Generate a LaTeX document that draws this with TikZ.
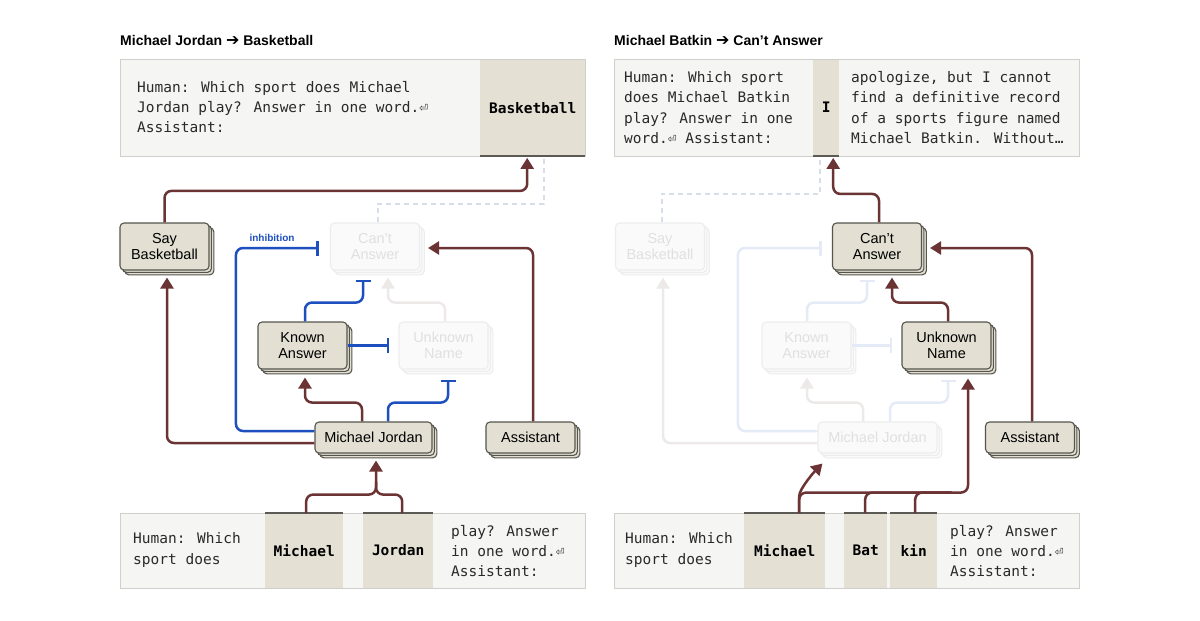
\documentclass[tikz,border=0pt]{standalone}
\usepackage{fontspec}
\setmainfont{Liberation Sans}
\newfontfamily\monof{DejaVu Sans Mono}
\newfontfamily\symf{DejaVu Sans}
\usetikzlibrary{arrows.meta,shadows,calc}
\definecolor{brownc}{HTML}{6B3333}
\definecolor{bluec}{HTML}{1D4FBF}
\definecolor{nodefill}{HTML}{E3DFD3}
\definecolor{nodeborder}{HTML}{55554D}
\definecolor{boxfill}{HTML}{F5F5F3}
\definecolor{boxborder}{HTML}{CFCFCB}
\definecolor{hlfill}{HTML}{E4E0D4}
\definecolor{hlline}{HTML}{5C5A55}
\definecolor{fadefill}{HTML}{FAFAFA}
\definecolor{fadeborder}{HTML}{EDEDED}
\definecolor{fadetext}{HTML}{E0E0E0}
\definecolor{fadebrown}{HTML}{EEE9E9}
\definecolor{fadeblue}{HTML}{E4EBF7}
\definecolor{dashc}{HTML}{D6DEEB}
\definecolor{txt}{HTML}{2A2A2A}
\begin{document}
\begin{tikzpicture}[x=1pt,y=-1pt,
  nd/.style={draw=nodeborder, fill=nodefill, rounded corners=4pt, line width=1.1pt,
    minimum width=89pt, minimum height=47pt, align=center, inner sep=0pt,
    font=\fontsize{14.5}{16}\selectfont, text=black,
    copy shadow={shadow xshift=4.8pt, shadow yshift=-4.8pt, fill=nodefill, draw=nodeborder},
    copy shadow={shadow xshift=2.4pt, shadow yshift=-2.4pt, fill=nodefill, draw=nodeborder}},
  fnd/.style={draw=fadeborder, fill=fadefill, rounded corners=4pt, line width=1.1pt,
    minimum width=89pt, minimum height=47pt, align=center, inner sep=0pt,
    font=\fontsize{14.5}{16}\selectfont, text=fadetext,
    copy shadow={shadow xshift=4.8pt, shadow yshift=-4.8pt, fill=fadefill, draw=fadeborder},
    copy shadow={shadow xshift=2.4pt, shadow yshift=-2.4pt, fill=fadefill, draw=fadeborder}},
  qbox/.style={draw=boxborder, fill=boxfill, line width=1pt, inner sep=0pt, anchor=north west},
  hl/.style={fill=hlfill, inner sep=0pt, anchor=north west},
  hlbar/.style={draw=hlline, line width=1.6pt},
  mtext/.style={anchor=west, align=left, inner sep=0pt, text=txt,
    font=\monof\fontsize{14.5}{20.3}\selectfont},
  mbold/.style={inner sep=0pt, text=black, font=\monof\bfseries\fontsize{14.5}{20}\selectfont},
  ttl/.style={anchor=west, inner sep=0pt, text=black, font=\bfseries\fontsize{14}{18}\selectfont},
  act/.style={draw=brownc, line width=2.5pt, rounded corners=7pt},
  inh/.style={draw=bluec, line width=2.5pt, rounded corners=7pt},
  fact/.style={draw=fadebrown, line width=2.5pt, rounded corners=7pt},
  finh/.style={draw=fadeblue, line width=2.5pt, rounded corners=7pt},
  dsh/.style={draw=dashc, line width=2pt, dash pattern=on 5pt off 4pt},
  tip/.style={-{Triangle[width=13pt,length=11pt]}},
  bar/.style={-{Bar[width=15pt]}}
]
\useasboundingbox[fill=white] (0,0) rectangle (1200,621);

% ---------------- titles
\node[ttl] (t1) at (120,40) {Michael Jordan {\symf\fontsize{16}{18}\selectfont ➔} Basketball};
\node[ttl] (t2) at (614,40) {Michael Batkin {\symf\fontsize{16}{18}\selectfont ➔} Can’t Answer};

% ---------------- left top prompt
\node[qbox, minimum width=465pt, minimum height=97pt] (Q1) at (120,59) {};
\node[hl, minimum width=105pt, minimum height=96pt] (BB) at (480,59.5) {};
\draw[hlbar] (BB.south west) -- (BB.south east);
\node[mbold] (BBt) at (BB) {Basketball};
\node[mtext] (T1) at (137,107) {Human: Which sport does Michael\\Jordan play? Answer in one word.⏎\\Assistant:};

% ---------------- right top prompt
\node[qbox, minimum width=465pt, minimum height=97pt] (Q2) at (614,59) {};
\node[hl, minimum width=26pt, minimum height=96pt] (IH) at (813,59.5) {};
\draw[hlbar] (IH.south west) -- (IH.south east);
\node[mbold] (IHt) at (IH) {I};
\node[mtext] (T2) at (624,107.5) {Human: Which sport\\does Michael Batkin\\play? Answer in one\\word.⏎ Assistant:};
\node[mtext] (T3) at (851,107.5) {apologize, but I cannot\\find a definitive record\\of a sports figure named\\Michael Batkin. Without…};

% ---------------- left bottom prompt
\node[qbox, minimum width=465pt, minimum height=75pt] (Q3) at (120,513) {};
\node[hl, minimum width=78pt, minimum height=74.5pt] (M1) at (265,513) {};
\node[hl, minimum width=70pt, minimum height=74.5pt] (J1) at (363,513) {};
\draw[hlbar] (M1.north west) -- (M1.north east);
\draw[hlbar] (J1.north west) -- (J1.north east);
\node[mbold] (M1t) at (M1) {Michael};
\node[mbold] (J1t) at (J1) {Jordan};
\node[mtext] (T4) at (133,550) {Human: Which\\sport does};
\node[mtext] (T5) at (451,551) {play? Answer\\in one word.⏎\\Assistant:};

% ---------------- right bottom prompt
\node[qbox, minimum width=465pt, minimum height=75pt] (Q4) at (614,513) {};
\node[hl, minimum width=81pt, minimum height=74.5pt] (M2) at (744,513) {};
\node[hl, minimum width=43pt, minimum height=74.5pt] (B2) at (844,513) {};
\node[hl, minimum width=47pt, minimum height=74.5pt] (K2) at (890,513) {};
\draw[hlbar] (M2.north west) -- (M2.north east);
\draw[hlbar] (B2.north west) -- (B2.north east);
\draw[hlbar] (K2.north west) -- (K2.north east);
\node[mbold] (M2t) at (M2) {Michael};
\node[mbold] (B2t) at (B2) {Bat};
\node[mbold] (K2t) at (K2) {kin};
\node[mtext] (T6) at (625,550) {Human: Which\\sport does};
\node[mtext] (T7) at (950,551) {play? Answer\\in one word.⏎\\Assistant:};

% ---------------- left graph nodes
\node[nd] (SB1) at (164.5,246.5) {Say\\Basketball};
\node[fnd] (CA1) at (375,246.5) {Can't\\Answer};
\node[nd] (KA1) at (302.5,345.5) {Known\\Answer};
\node[fnd] (UN1) at (443.5,345.5) {Unknown\\Name};
\node[nd, minimum width=117pt, minimum height=31pt] (MJ1) at (373.5,437.5) {Michael Jordan};
\node[nd, minimum height=31pt] (AS1) at (530.5,437.5) {Assistant};

% ---------------- right graph nodes
\node[fnd] (SB2) at (660,246.5) {Say\\Basketball};
\node[nd] (CA2) at (877,246.5) {Can't\\Answer};
\node[fnd] (KA2) at (806.5,345.5) {Known\\Answer};
\node[nd] (UN2) at (946.5,345.5) {Unknown\\Name};
\node[fnd, minimum width=119pt, minimum height=31pt] (MJ2) at (877.5,437.5) {Michael Jordan};
\node[nd, minimum height=31pt] (AS2) at (1030,437.5) {Assistant};

% ---------------- left connectors
\draw[dsh] ([xshift=3pt]CA1.north) |- ($(BB.south)+(11.5,48)$) -- ([xshift=11.5pt]BB.south);
\draw[act,tip,shorten >=2pt] (SB1.north) |- ($(BB.south)+(-5.5,35)$) -- ([xshift=-5.5pt]BB.south);
\draw[act,tip,shorten >=7pt] ([yshift=-5.5pt]MJ1.west) -| ([xshift=2.5pt]SB1.south);
\draw[inh,bar,shorten >=11pt] ([yshift=6.5pt]MJ1.west) -| ($(CA1.west)+(-94,1.5)$) -- ([yshift=-1.5pt]CA1.west);
\node[text=bluec, font=\bfseries\fontsize{10}{12}\selectfont] (lab) at (272,238) {inhibition};
\draw[fact,tip,shorten >=7pt] ([xshift=1.5pt]UN1.north) |- ($(CA1.south)+(13,32)$) -- ([xshift=13pt]CA1.south);
\draw[inh,bar,shorten >=9pt] ([xshift=2.5pt]KA1.north) |- ($(CA1.south)+(-12,32)$) -- ([xshift=-12pt]CA1.south);
\draw[inh,bar,shorten >=9pt] (KA1.east) -- (UN1.west);
\draw[act,tip,shorten >=8pt] ([xshift=-11.5pt]MJ1.north) |- ($(KA1.south)+(2.5,33)$) -- ([xshift=2.5pt]KA1.south);
\draw[inh,bar,shorten >=10pt] ([xshift=14.5pt]MJ1.north) |- ($(UN1.south)+(4.5,33)$) -- ([xshift=4.5pt]UN1.south);
\draw[act,tip,shorten >=8pt] ([xshift=2.5pt]AS1.north) |- ([yshift=-1.5pt]CA1.east);
\draw[act] ([xshift=4pt]J1.north) |- ($(MJ1.south)+(2.5,41)$) -- ($(MJ1.south)+(2.5,28)$);
\draw[act,tip,shorten >=7pt] ([xshift=2pt]M1.north) |- ($(MJ1.south)+(2.5,41)$) -- ([xshift=2.5pt]MJ1.south);

% ---------------- right connectors
\draw[dsh] ([xshift=2pt]SB2.north) |- ($(IH.south)+(-6,38)$) -- ([xshift=-6pt]IH.south);
\draw[act,tip,shorten >=2pt] ([xshift=2pt]CA2.north) |- ($(IH.south)+(7,38)$) -- ([xshift=7pt]IH.south);
\draw[fact,tip,shorten >=7pt] ([yshift=-5.5pt]MJ2.west) -| ([xshift=3pt]SB2.south);
\draw[finh,bar,shorten >=10pt] ([yshift=6.5pt]MJ2.west) -| ($(CA2.west)+(-94,1.5)$) -- ([yshift=-1.5pt]CA2.west);
\draw[finh,bar,shorten >=9pt] ([xshift=0.5pt]KA2.north) |- ($(CA2.south)+(-10,32)$) -- ([xshift=-10pt]CA2.south);
\draw[finh,bar,shorten >=9pt] (KA2.east) -- (UN2.west);
\draw[fact,tip,shorten >=8pt] ([xshift=-14.5pt]MJ2.north) |- ($(KA2.south)+(0.5,33)$) -- ([xshift=0.5pt]KA2.south);
\draw[finh,bar,shorten >=10pt] ([xshift=12.5pt]MJ2.north) |- ($(UN2.south)+(1.5,33)$) -- ([xshift=1.5pt]UN2.south);
\draw[act,tip,shorten >=7pt] ([xshift=1.5pt]UN2.north) |- ($(CA2.south)+(15,32)$) -- ([xshift=15pt]CA2.south);
\draw[act,tip,shorten >=8pt] ([xshift=2pt]AS2.north) |- ([yshift=-1.5pt]CA2.east);
\draw[act] ([xshift=-0.5pt]B2.north) |- ($(UN2.south)+(5,123)$);
\draw[act] ([xshift=1.5pt]K2.north) |- ($(UN2.south)+(5,123)$);
\draw[act,tip,shorten >=9pt] ([xshift=14.5pt]M2.north) |- ($(UN2.south)+(21.5,123)$) -- ([xshift=21.5pt]UN2.south);
\draw[act,tip] ([xshift=14.5pt]M2.north) -- ++(0,-10) .. controls +(0,-14) and +(-8,8) .. ($(MJ2.south west)+(5,10)$);
\end{tikzpicture}
\end{document}
